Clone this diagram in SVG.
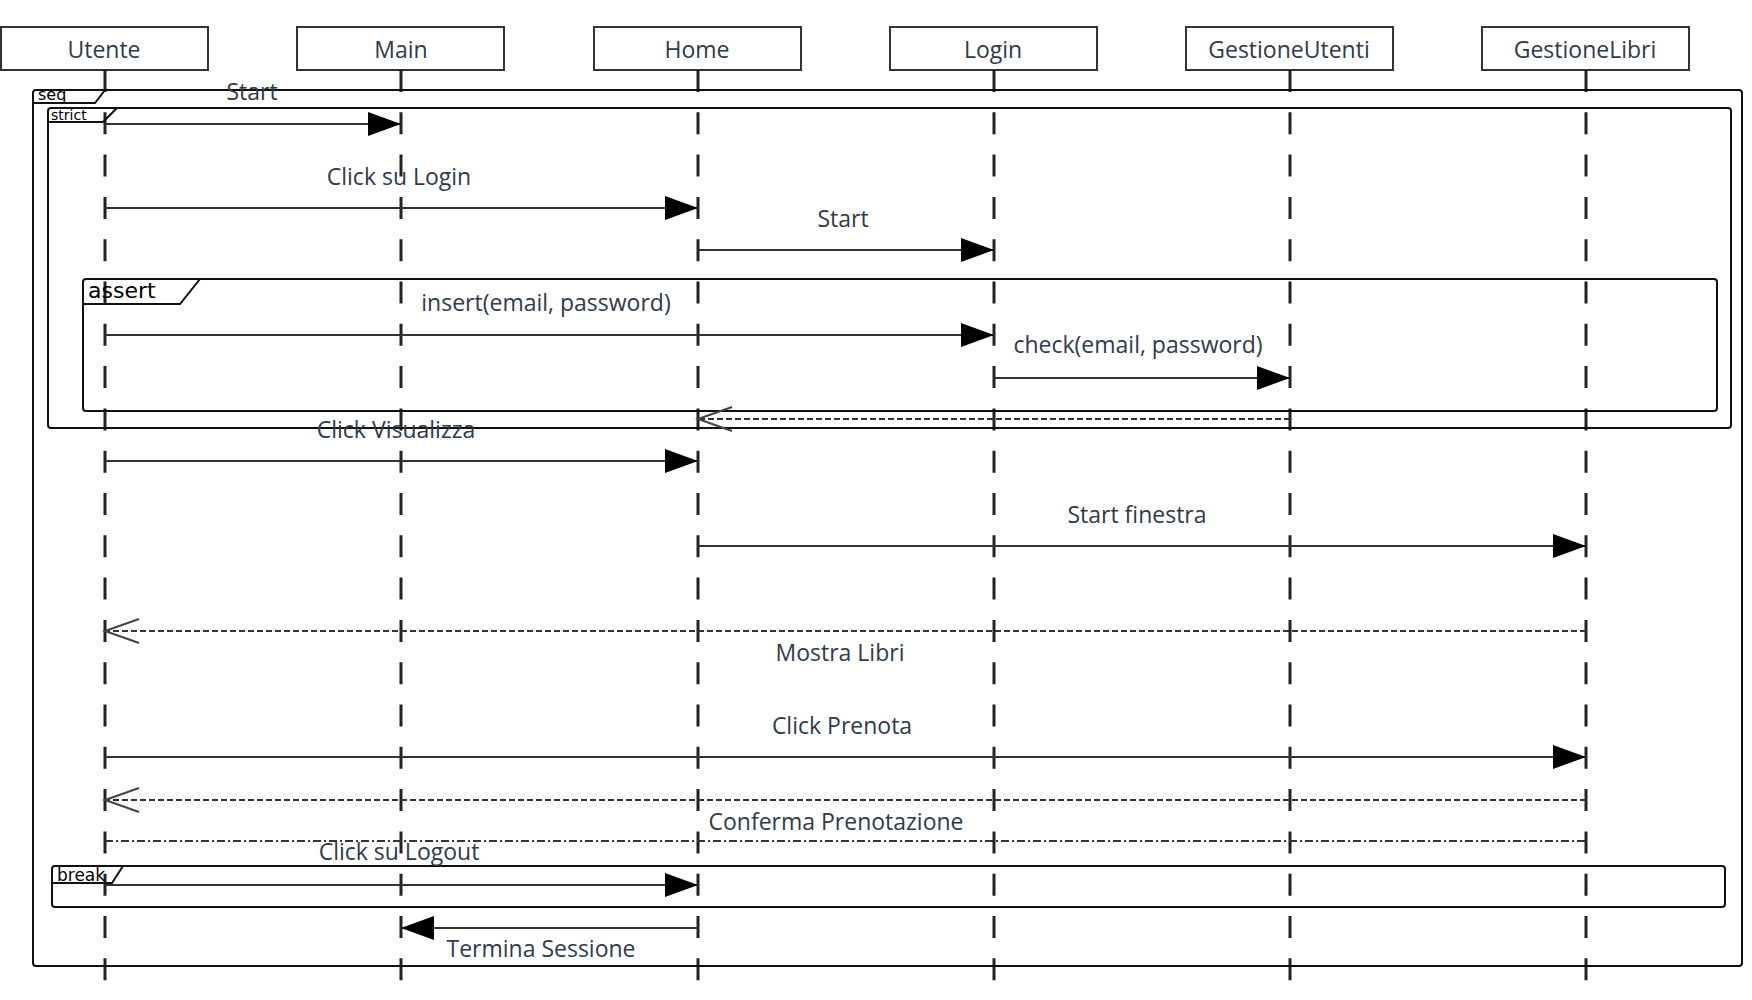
<svg xmlns="http://www.w3.org/2000/svg" width="1752" height="1000" viewBox="0 0 1752 1000">
<style>
.box{fill:#fff;stroke:#333;stroke-width:2}
.lbl{font-family:"Open Sans","Liberation Sans",sans-serif;font-size:23px;fill:#2f3a4c;text-anchor:middle}
.life{stroke:#222;stroke-width:3;stroke-dasharray:22 20.3;fill:none}
.frame{fill:none;stroke:#111;stroke-width:2}
.tab{fill:none;stroke:#111;stroke-width:2}
.tabtxt{font-family:"DejaVu Sans","Liberation Sans",sans-serif;fill:#000}
.sync{stroke:#333;stroke-width:2;fill:none;marker-end:url(#filled)}
.ret{stroke:#333;stroke-width:2;fill:none;stroke-dasharray:6 3;marker-end:url(#open)}
.dd{stroke:#333;stroke-width:2;fill:none;stroke-dasharray:8 3 2 3}
</style>
<defs>
<marker id="filled" markerUnits="userSpaceOnUse" markerWidth="34" markerHeight="26" refX="33" refY="12" orient="auto" overflow="visible">
<path d="M0,0 L33,12 L0,24 z" fill="#000"/>
</marker>
<marker id="open" markerUnits="userSpaceOnUse" markerWidth="36" markerHeight="26" refX="34" refY="12" orient="auto" overflow="visible">
<path d="M0,0 L34,12 L0,24" fill="none" stroke="#444" stroke-width="2"/>
</marker>
</defs>
<rect width="1752" height="1000" fill="#fff"/>

<g id="Utente"><rect class="box" x="1" y="27" width="207" height="43"/><text class="lbl" x="104" y="58">Utente</text><line class="life" x1="105" y1="70" x2="105" y2="1000"/></g>
<g id="Main"><rect class="box" x="297" y="27" width="207" height="43"/><text class="lbl" x="401" y="58">Main</text><line class="life" x1="401" y1="70" x2="401" y2="1000"/></g>
<g id="Home"><rect class="box" x="594" y="27" width="207" height="43"/><text class="lbl" x="697" y="58">Home</text><line class="life" x1="698" y1="70" x2="698" y2="1000"/></g>
<g id="Login"><rect class="box" x="890" y="27" width="207" height="43"/><text class="lbl" x="993" y="58">Login</text><line class="life" x1="994" y1="70" x2="994" y2="1000"/></g>
<g id="GestioneUtenti"><rect class="box" x="1186" y="27" width="207" height="43"/><text class="lbl" x="1289" y="58">GestioneUtenti</text><line class="life" x1="1290" y1="70" x2="1290" y2="1000"/></g>
<g id="GestioneLibri"><rect class="box" x="1482" y="27" width="207" height="43"/><text class="lbl" x="1585" y="58">GestioneLibri</text><line class="life" x1="1586" y1="70" x2="1586" y2="1000"/></g>

<g id="frame-seq"><rect class="frame" x="33" y="90" width="1709" height="876" rx="3"/><path class="tab" d="M33,103 H95 L105,90"/><text class="tabtxt" x="38" y="100" font-size="16">seq</text></g>
<g id="frame-strict"><rect class="frame" x="48" y="108" width="1683" height="320" rx="3"/><path class="tab" d="M48,122 H103 L117,108"/><text class="tabtxt" x="51" y="120" font-size="14">strict</text></g>
<g id="frame-assert"><rect class="frame" x="83" y="279" width="1634" height="132" rx="3"/><path class="tab" d="M83,304 H180 L200,279"/><text class="tabtxt" x="88" y="298" font-size="22">assert</text></g>
<g id="frame-break"><rect class="frame" x="52" y="866" width="1673" height="41" rx="3"/><path class="tab" d="M52,883 H112 L123,866"/><text class="tabtxt" x="57" y="881" font-size="17">break</text></g>

<g id="connectors">
<line class="sync" x1="105" y1="124" x2="401" y2="124"/>
<text class="lbl" x="252" y="100">Start</text>
<line class="sync" x1="105" y1="208" x2="698" y2="208"/>
<text class="lbl" x="399" y="185">Click su Login</text>
<line class="sync" x1="698" y1="250" x2="994" y2="250"/>
<text class="lbl" x="843" y="227">Start</text>
<line class="sync" x1="105" y1="335" x2="994" y2="335"/>
<text class="lbl" x="546" y="311">insert(email, password)</text>
<line class="sync" x1="994" y1="378" x2="1290" y2="378"/>
<text class="lbl" x="1138" y="353">check(email, password)</text>
<line class="ret" x1="1290" y1="419" x2="698" y2="419"/>
<line class="sync" x1="105" y1="461" x2="698" y2="461"/>
<text class="lbl" x="396" y="438">Click Visualizza</text>
<line class="sync" x1="698" y1="546" x2="1586" y2="546"/>
<text class="lbl" x="1137" y="523">Start finestra</text>
<line class="ret" x1="1586" y1="631" x2="105" y2="631"/>
<text class="lbl" x="840" y="661">Mostra Libri</text>
<line class="sync" x1="105" y1="757" x2="1586" y2="757"/>
<text class="lbl" x="842" y="734">Click Prenota</text>
<line class="ret" x1="1586" y1="800" x2="105" y2="800"/>
<text class="lbl" x="836" y="830">Conferma Prenotazione</text>
<line class="dd" x1="105" y1="841" x2="1586" y2="841"/>
<line class="sync" x1="105" y1="885" x2="698" y2="885"/>
<text class="lbl" x="399" y="860">Click su Logout</text>
<line class="sync" x1="698" y1="928" x2="401" y2="928"/>
<text class="lbl" x="541" y="957">Termina Sessione</text>
</g>
</svg>
